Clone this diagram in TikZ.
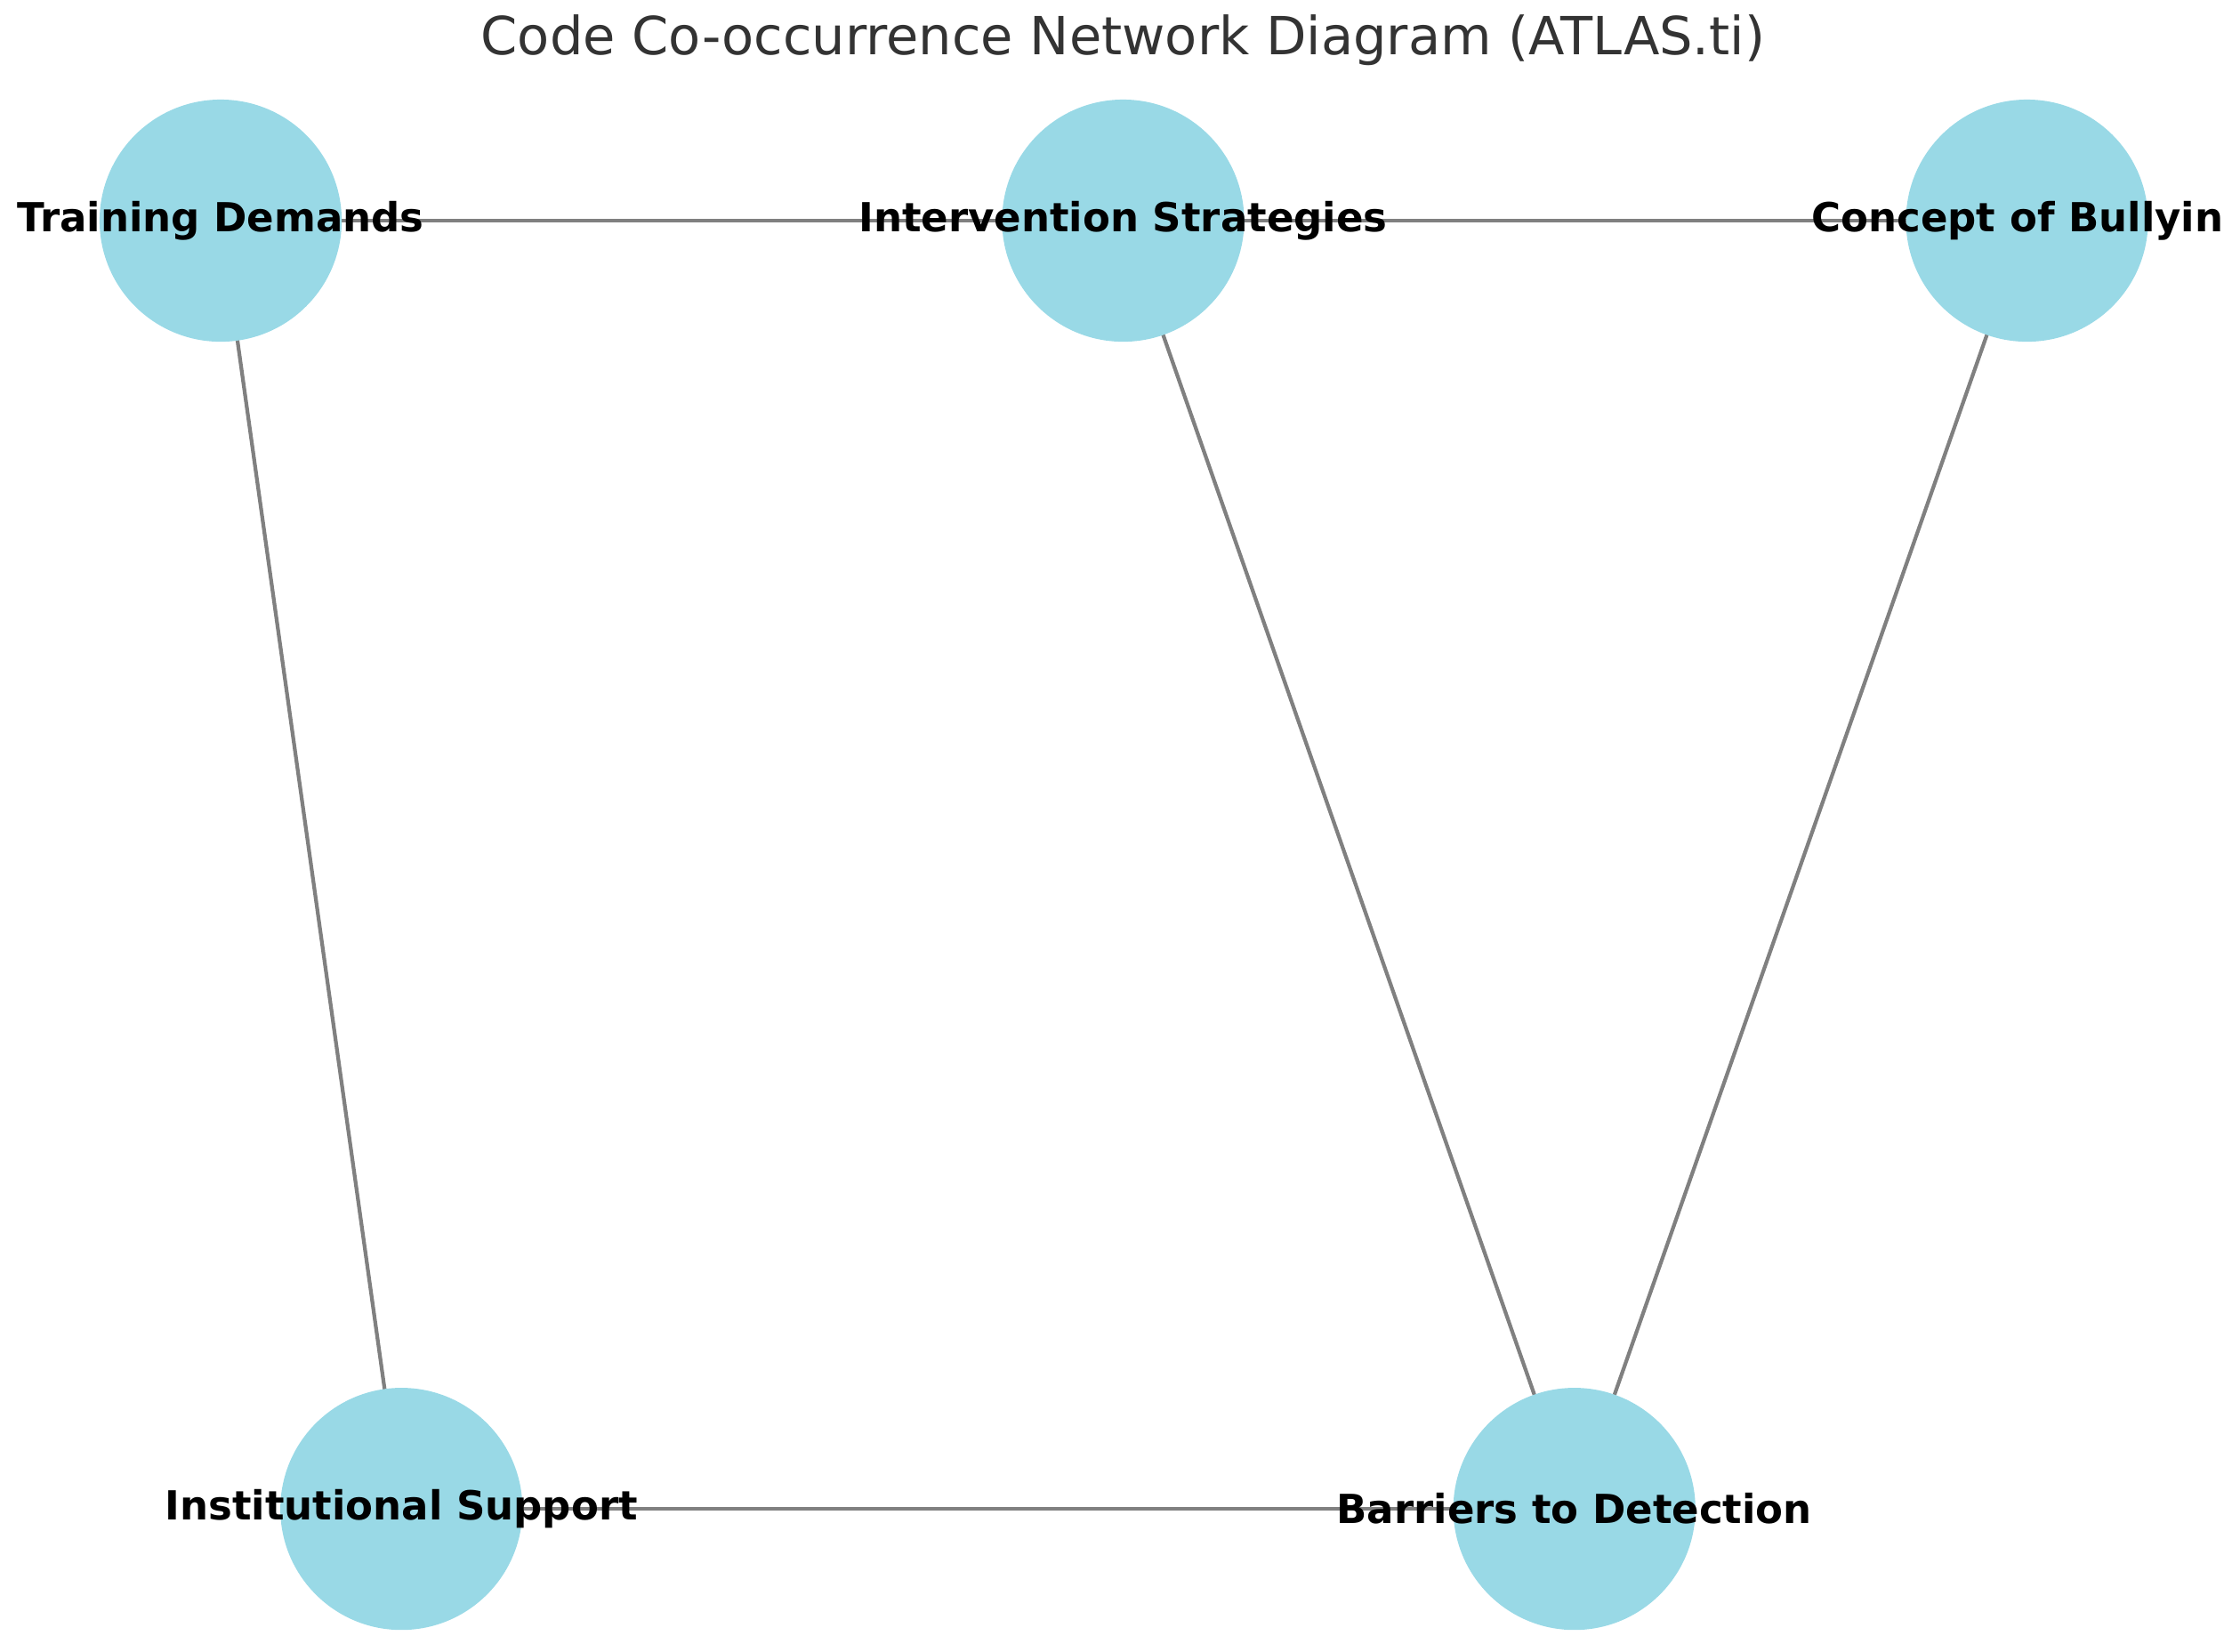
\documentclass[tikz,border=0pt]{standalone}
\usepackage{fontspec}
\setmainfont{DejaVu Sans}
\begin{document}
\begin{tikzpicture}[x=0.01cm,y=-0.01cm,
  code/.style={circle,fill=cb,draw=none,minimum size=1.7cm,inner sep=0},
  lab/.style={font=\fontsize{8}{9}\selectfont\bfseries,inner sep=0},
  edge/.style={draw=eg,line width=0.75pt}]
\definecolor{cb}{HTML}{99D9E6}
\definecolor{eg}{HTML}{808080}
\useasboundingbox (0,0) rectangle (1568,1160);
\node[font=\fontsize{10.5}{12}\selectfont,text=black!80] (title) at (789,28) {Code Co-occurrence Network Diagram (ATLAS.ti)};
\coordinate (td) at (155,155);
\coordinate (is) at (789,155);
\coordinate (cb) at (1424,155);
\coordinate (ins) at (282,1060);
\coordinate (bd) at (1106,1060);
\draw[edge] (td) -- (is);
\draw[edge] (is) -- (cb);
\draw[edge] (td) -- (ins);
\draw[edge] (is) -- (bd);
\draw[edge] (cb) -- (bd);
\draw[edge] (ins) -- (bd);
\node[code] (n1) at (td) {};
\node[code] (n2) at (is) {};
\node[code] (n3) at (cb) {};
\node[code] (n4) at (ins) {};
\node[code] (n5) at (bd) {};
\node[lab] (l1) at (td) {Training Demands};
\node[lab] (l2) at (is) {Intervention Strategies};
\node[lab,anchor=west] (l3) at (1272,155) {Concept of Bullyin};
\node[lab] (l4) at (ins) {Institutional Support};
\node[lab] (l5) at (bd) {Barriers to Detection};
\end{tikzpicture}
\end{document}
